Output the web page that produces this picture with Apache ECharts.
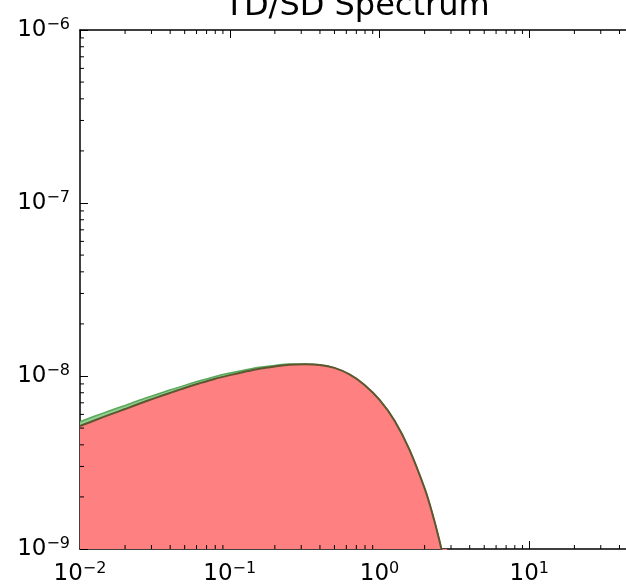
<!DOCTYPE html>
<html>
<head>
<meta charset="utf-8">
<script src="https://cdn.jsdelivr.net/npm/echarts@6/dist/echarts.min.js"></script>
<style>html,body{margin:0;padding:0;background:#fff}#c{width:626px;height:585px}</style>
</head>
<body>
<div id="c"></div>
<script>
// ---- data ----
var xValues = [0.01, 0.0126, 0.0158, 0.02, 0.0251, 0.0316, 0.0398, 0.05, 0.063, 0.079, 0.1, 0.126, 0.158, 0.2, 0.251, 0.316, 0.398, 0.5, 0.63, 0.79, 1.0, 1.26, 1.58, 2.0, 2.24, 2.51, 2.82];
var tdValues = [5.14e-9, 5.55e-9, 5.98e-9, 6.44e-9, 6.93e-9, 7.45e-9, 7.98e-9, 8.53e-9, 9.08e-9, 9.62e-9, 1.012e-8, 1.059e-8, 1.102e-8, 1.135e-8, 1.161e-8, 1.169e-8, 1.159e-8, 1.114e-8, 1.021e-8, 8.91e-9, 7.28e-9, 5.52e-9, 3.77e-9, 2.24e-9, 1.63e-9, 1.12e-9, 7.16e-10];
var sdValues = [5.44e-9, 5.87e-9, 6.30e-9, 6.76e-9, 7.26e-9, 7.76e-9, 8.30e-9, 8.83e-9, 9.38e-9, 9.91e-9, 1.040e-8, 1.083e-8, 1.123e-8, 1.151e-8, 1.172e-8, 1.174e-8, 1.161e-8, 1.114e-8, 1.021e-8, 8.91e-9, 7.28e-9, 5.52e-9, 3.77e-9, 2.24e-9, 1.63e-9, 1.12e-9, 7.16e-10];
var xRange = [0.01, 50];
var yRange = [1e-9, 1e-6];
var xDecades = [0.01, 0.1, 1, 10];
var yDecades = [1e-9, 1e-8, 1e-7];
var minorMultipliers = [2, 3, 4, 5, 6, 7, 8, 9];
var titleText = 'TD/SD Spectrum';

function pairs(xs, ys) { return xs.map(function (x, i) { return [x, ys[i]]; }); }
function minorList(decades, lo, hi) {
  var out = [];
  decades.forEach(function (d) {
    minorMultipliers.forEach(function (m) {
      var v = d * m;
      if (v > lo && v < hi) out.push([v]);
    });
  });
  return out;
}
var xMinor = minorList(xDecades, xRange[0], xRange[1]);
var yMinor = minorList(yDecades, yRange[0], yRange[1]);

function expLabel(v) {
  var e = Math.log10(v);
  var r = Math.round(e);
  if (Math.abs(e - r) > 1e-6) return '';
  var s = r < 0 ? '\u2212' + (-r) : '' + r;
  return '{b|10}{s|' + s + '}';
}
var FONT = 'DejaVu Sans';
var richStyle = {
  b: { fontFamily: FONT, fontSize: 23, lineHeight: 26, color: '#000' },
  s: { fontFamily: FONT, fontSize: 16, lineHeight: 16, verticalAlign: 'top', color: '#000' }
};

var chart = echarts.init(document.getElementById('c'), null, { renderer: 'canvas' });

function tickSeries(data, kind) {
  return {
    type: 'custom',
    coordinateSystem: 'cartesian2d',
    xAxisIndex: 0, yAxisIndex: 0,
    silent: true,
    z: 10,
    clip: false,
    data: data,
    renderItem: function (params, api) {
      var v = api.value(0);
      var L = 4;
      var children = [];
      if (kind === 'x') {
        var b = api.coord([v, yRange[0]]);
        var t = api.coord([v, yRange[1]]);
        children.push({ type: 'line', shape: { x1: b[0], y1: b[1], x2: b[0], y2: b[1] - L }, style: { stroke: '#000', lineWidth: 1 } });
        children.push({ type: 'line', shape: { x1: t[0], y1: t[1], x2: t[0], y2: t[1] + L }, style: { stroke: '#000', lineWidth: 1 } });
      } else {
        var l = api.coord([xRange[0], v]);
        var r = api.coord([xRange[1], v]);
        children.push({ type: 'line', shape: { x1: l[0], y1: l[1], x2: l[0] + L, y2: l[1] }, style: { stroke: '#000', lineWidth: 1 } });
        children.push({ type: 'line', shape: { x1: r[0], y1: r[1], x2: r[0] - L, y2: r[1] }, style: { stroke: '#000', lineWidth: 1 } });
      }
      return { type: 'group', children: children };
    }
  };
}

var axisLineStyle = { show: true, lineStyle: { color: '#000', width: 1.5 } };
var majorTick = { show: true, inside: true, length: 8, lineStyle: { color: '#000', width: 1 } };

var option = {
  animation: false,
  backgroundColor: '#fff',
  grid: { left: 80, top: 30, right: -8, bottom: 36, outerBoundsMode: 'none', containLabel: false },
  graphic: [{
    type: 'text', x: 357, y: 7, z: 100,
    style: { text: titleText, fontFamily: FONT, fontSize: 32, fill: '#000', align: 'center', verticalAlign: 'middle' }
  }],
  xAxis: [{
    type: 'log', logBase: 10, min: xRange[0], max: xRange[1], interval: 1,
    position: 'bottom',
    axisLine: axisLineStyle, axisTick: majorTick, splitLine: { show: false },
    axisLabel: { show: true, margin: 12, formatter: expLabel, rich: richStyle, showMaxLabel: false }
  }, {
    type: 'log', logBase: 10, min: xRange[0], max: xRange[1], interval: 1,
    position: 'top',
    axisLine: axisLineStyle, axisTick: majorTick, splitLine: { show: false },
    axisLabel: { show: false }
  }],
  yAxis: [{
    type: 'log', logBase: 10, min: yRange[0], max: yRange[1], interval: 1,
    position: 'left',
    axisLine: axisLineStyle, axisTick: majorTick, splitLine: { show: false },
    axisLabel: { show: true, margin: 10, formatter: expLabel, rich: richStyle }
  }, {
    type: 'log', logBase: 10, min: yRange[0], max: yRange[1], interval: 1,
    position: 'right',
    axisLine: axisLineStyle, axisTick: majorTick, splitLine: { show: false },
    axisLabel: { show: false }
  }],
  series: [{
    name: 'SD', type: 'line', xAxisIndex: 0, yAxisIndex: 0,
    data: pairs(xValues, sdValues),
    smooth: 0.3, showSymbol: false, symbol: 'none',
    lineStyle: { color: '#5aa85a', width: 1.5 },
    areaStyle: { color: '#8fcf8f', opacity: 1, origin: 'start' },
    z: 2
  }, {
    name: 'TD', type: 'line', xAxisIndex: 0, yAxisIndex: 0,
    data: pairs(xValues, tdValues),
    smooth: 0.3, showSymbol: false, symbol: 'none',
    lineStyle: { color: '#5e5630', width: 2 },
    areaStyle: { color: '#ff8080', opacity: 1, origin: 'start' },
    z: 3
  }, tickSeries(xMinor, 'x'), tickSeries(yMinor, 'y')]
};
chart.setOption(option);
</script>
</body>
</html>
